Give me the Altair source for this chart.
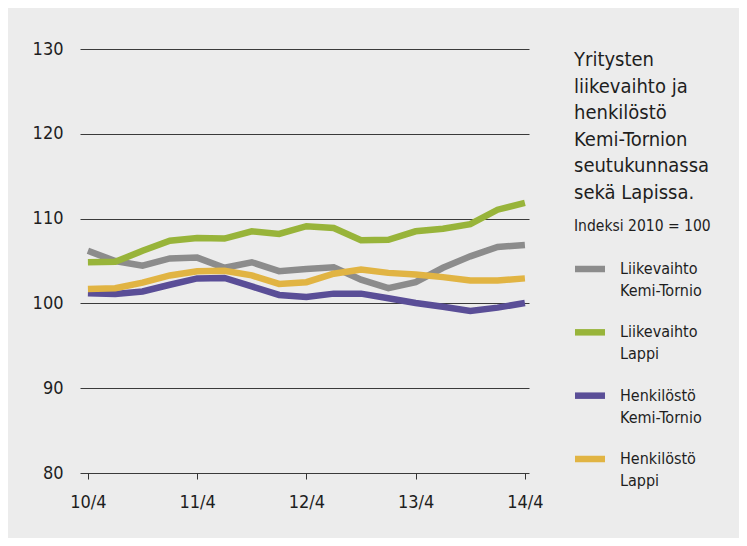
import altair as alt
import pandas as pd

# ---- data ----
quarters = ["10/4", "11/1", "11/2", "11/3", "11/4", "12/1", "12/2", "12/3", "12/4",
            "13/1", "13/2", "13/3", "13/4", "14/1", "14/2", "14/3", "14/4"]
axis_labels = ["10/4", "11/4", "12/4", "13/4", "14/4"]

series_names = ["Liikevaihto Kemi-Tornio", "Liikevaihto Lappi",
                "Henkilöstö Kemi-Tornio", "Henkilöstö Lappi"]
series_colors = ["#8c8c8c", "#98b43a", "#5a4e97", "#e1b443"]

liikevaihto_kemi = [106.2, 105.0, 104.45, 105.3, 105.4, 104.2, 104.85, 103.8, 104.05,
                    104.25, 102.8, 101.8, 102.5, 104.2, 105.55, 106.65, 106.9]
liikevaihto_lappi = [104.85, 104.9, 106.2, 107.4, 107.7, 107.65, 108.5, 108.2, 109.1,
                     108.9, 107.45, 107.5, 108.5, 108.8, 109.35, 111.05, 111.85]
henkilosto_kemi = [101.2, 101.1, 101.4, 102.2, 102.95, 103.0, 102.0, 101.0, 100.75,
                   101.15, 101.15, 100.6, 100.05, 99.6, 99.1, 99.5, 100.05]
henkilosto_lappi = [101.7, 101.8, 102.45, 103.3, 103.8, 103.85, 103.3, 102.3, 102.5,
                    103.5, 104.0, 103.6, 103.4, 103.1, 102.7, 102.7, 102.95]

title_lines = ["Yritysten", "liikevaihto ja", "henkilöstö", "Kemi-Tornion",
               "seutukunnassa", "sekä Lapissa."]
subtitle_text = "Indeksi 2010 = 100"
y_ticks = [80, 90, 100, 110, 120, 130]

FONT = "DejaVu Sans Condensed, sans-serif"
TXT = "#1e1e1e"

rows = []
for name, vals in zip(series_names,
                      [liikevaihto_kemi, liikevaihto_lappi, henkilosto_kemi, henkilosto_lappi]):
    for i, v in enumerate(vals):
        rows.append({"series": name, "q": i, "quarter": quarters[i], "value": v})
df = pd.DataFrame(rows)

legend_df = pd.DataFrame({
    "series": series_names,
    "label": [s.replace(" ", "\n", 1) for s in series_names],
})

label_js = "[" + ",".join("'%s'" % s for s in axis_labels) + "]"
color_scale = alt.Scale(domain=series_names, range=series_colors)

lines = alt.Chart(df).mark_line(strokeWidth=6.5, strokeCap="butt", strokeJoin="miter").encode(
    x=alt.X("q:Q",
            scale=alt.Scale(domain=[-0.29, 16.15], nice=False, zero=False),
            axis=alt.Axis(values=[0, 4, 8, 12, 16], labelExpr=label_js + "[datum.value/4]",
                          title=None, grid=False, domain=False, ticks=True, tickSize=6,
                          tickColor="#333333", tickWidth=1, labelFont=FONT, labelFontSize=18,
                          labelColor=TXT, labelPadding=14, labelFlush=False)),
    y=alt.Y("value:Q",
            scale=alt.Scale(domain=[80, 130], nice=False, zero=False),
            axis=alt.Axis(values=y_ticks, title=None, grid=True, gridColor="#3a3a3a",
                          gridWidth=1.1, domain=False, ticks=False, labelFont=FONT,
                          labelFontSize=18, labelColor=TXT, labelPadding=17)),
    color=alt.Color("series:N", scale=color_scale, legend=None),
    order=alt.Order("q:Q"),
)

leg_y = alt.Y("series:N", scale=alt.Scale(type="point", domain=series_names,
                                          range=[220, 410], padding=0), axis=None)

legend_swatch = alt.Chart(legend_df).mark_rule(strokeWidth=6.5, strokeCap="butt").encode(
    x=alt.value(495), x2=alt.value(525), y=leg_y,
    color=alt.Color("series:N", scale=color_scale, legend=None),
)
legend_text = alt.Chart(legend_df).mark_text(
    align="left", baseline="middle", lineBreak="\n", lineHeight=22, font=FONT,
    fontSize=16, color=TXT
).encode(x=alt.value(540), y=leg_y, text="label:N")

legend_layer = alt.layer(legend_swatch, legend_text)

title = alt.Chart(pd.DataFrame({"t": [0]})).mark_text(
    text=title_lines, align="left", baseline="alphabetic", font=FONT, fontSize=20,
    lineHeight=26.5, color=TXT
).encode(x=alt.value(494), y=alt.value(17))

subtitle = alt.Chart(pd.DataFrame({"t": [0]})).mark_text(
    text=subtitle_text, align="left", baseline="alphabetic", font=FONT, fontSize=15.5,
    color=TXT
).encode(x=alt.value(494), y=alt.value(182))

chart = alt.layer(lines, legend_layer, title, subtitle).resolve_scale(
    y="independent"
).properties(
    width=449, height=424,
    autosize=alt.AutoSizeParams(type="none"),
    padding={"left": 72, "top": 41, "right": 210, "bottom": 65},
    background="#ececec",
).configure_view(stroke=None)

chart.save("out.html", embed_options={"renderer": "svg", "actions": False})
